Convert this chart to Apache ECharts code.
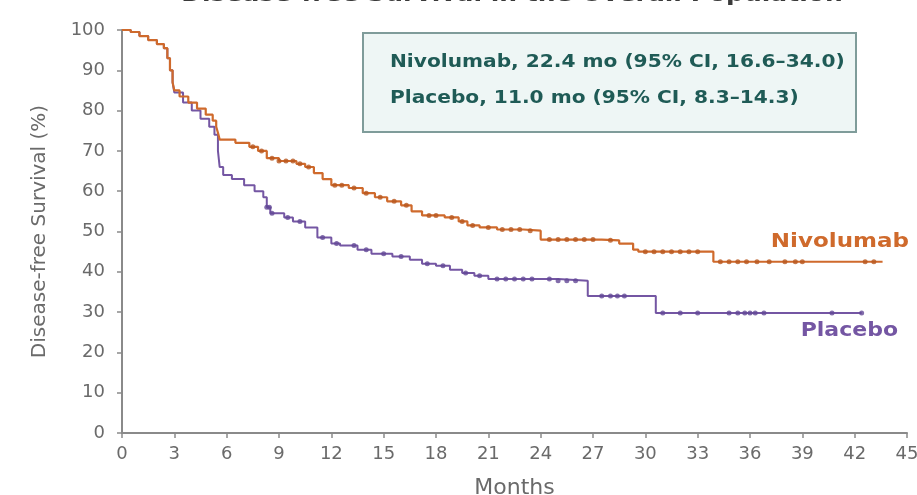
<!DOCTYPE html>
<html>
<head>
<meta charset="utf-8">
<script src="https://cdn.jsdelivr.net/npm/echarts@6/dist/echarts.min.js"></script>
<style>html,body{margin:0;padding:0;background:#fff}#c{width:917px;height:495px}</style>
</head>
<body>
<div id="c"></div>
<script>
// ---- data ----
const xTicks = [0,3,6,9,12,15,18,21,24,27,30,33,36,39,42,45];
const yTicks = [0,10,20,30,40,50,60,70,80,90,100];

const nivoTime = [0,0.5,1.0,1.5,2.0,2.4,2.6,2.75,2.9,3.0,3.3,3.8,4.3,4.8,5.2,5.4,5.5,5.6,6.5,7.3,7.8,8.3,9.0,10.0,10.5,11.0,11.5,12.0,13.0,13.8,14.5,15.2,16.0,16.6,17.2,18.5,19.3,19.8,20.5,21.5,23.0,24.0,27.5,28.5,29.3,29.6,33.9,43.6];
const nivoSurv = [100,99.5,98.5,97.5,96.5,95.5,93,90,87,85,83.5,82,80.5,79,77.5,76,74.5,72.8,72,71,70,68.2,67.5,66.8,66,64.5,63,61.5,60.8,59.5,58.5,57.5,56.5,55,54,53.5,52.5,51.5,51,50.5,50.2,48,47.8,47,45.5,45,42.5,42.5];

const placTime = [0,0.5,1.0,1.5,2.0,2.4,2.6,2.75,2.9,3.0,3.5,4.0,4.5,5.0,5.3,5.5,5.6,5.8,6.3,7.0,7.6,8.1,8.3,8.5,9.3,9.8,10.5,11.2,12.0,12.5,13.5,14.3,15.5,16.5,17.2,18.0,18.8,19.5,20.2,21.0,25.0,26.7,30.6,42.4];
const placSurv = [100,99.5,98.5,97.5,96.5,95.5,93,90,87,84.5,82,80,78,76,74,70,66,64,63,61.5,60,58.5,56,54.5,53.5,52.5,51,48.5,47,46.5,45.5,44.5,43.8,43,42,41.5,40.5,39.7,39,38.2,37.8,34,29.8,29.8];

const nivoCensor = [7.5,8.0,8.6,9.0,9.4,9.8,10.2,10.7,12.2,12.6,13.3,14.0,14.8,15.6,16.3,17.6,18.0,18.9,19.5,20.1,21.0,21.8,22.3,22.8,23.4,24.5,25.0,25.5,26.0,26.5,27.0,28.0,30.0,30.5,31.0,31.5,32.0,32.5,33.0,34.3,34.8,35.3,35.8,36.4,37.1,38.0,38.6,39.0,42.6,43.1];
const placCensor = [8.3,8.45,8.6,9.5,10.2,11.5,12.3,13.3,14.0,15.0,16.0,17.5,18.4,19.7,20.5,21.5,22.0,22.5,23.0,23.5,24.5,25.0,25.5,26.0,27.5,28.0,28.4,28.8,31.0,32.0,33.0,34.8,35.3,35.7,36.0,36.3,36.8,40.7,42.4];

// ---- helpers ----
function pairs(t, s){ return t.map((v,i)=>[v, s[i]]); }
function survAt(t, s, x){ let v = s[0]; for (let i=0;i<t.length;i++){ if (t[i] <= x) v = s[i]; } return v; }

const orange = '#cf6a2c';
const purple = '#7456a3';
const FF = '"DejaVu Sans"';

const chart = echarts.init(document.getElementById('c'), null, {renderer:'canvas'});
const axisFont = {fontFamily:'DejaVu Sans', fontSize:18, color:'#6a6a6a'};

chart.setOption({
  animation:false,
  grid:{left:122, right:10, top:30, bottom:62, containLabel:false, outerBoundsMode:'none'},
  xAxis:{
    type:'value', min:0, max:45, interval:3,
    name:'Months', nameLocation:'middle', nameGap:44,
    nameTextStyle:{fontFamily:'DejaVu Sans', fontSize:22, color:'#6a6a6a'},
    axisLine:{lineStyle:{color:'#8a8a8a', width:2}},
    axisTick:{show:true, length:5, lineStyle:{color:'#8a8a8a', width:1.5}},
    axisLabel:Object.assign({margin:12, formatter:(v)=> xTicks.includes(v)? String(v):''}, axisFont),
    splitLine:{show:false}
  },
  yAxis:{
    type:'value', min:0, max:100, interval:10,
    name:'Disease-free Survival (%)', nameLocation:'middle', nameGap:72,
    nameTextStyle:{fontFamily:'DejaVu Sans', fontSize:20, color:'#6a6a6a'},
    axisLine:{show:true, lineStyle:{color:'#8a8a8a', width:2}},
    axisTick:{show:true, length:5, lineStyle:{color:'#8a8a8a', width:1.5}},
    axisLabel:Object.assign({margin:17, formatter:(v)=> yTicks.includes(v)? String(v):''}, axisFont),
    splitLine:{show:false}
  },
  series:[
    {type:'line', name:'Placebo', step:'end', showSymbol:false, data:pairs(placTime, placSurv),
     lineStyle:{color:purple, width:2}, z:2},
    {type:'line', name:'Nivolumab', step:'end', showSymbol:false, data:pairs(nivoTime, nivoSurv),
     lineStyle:{color:orange, width:2.2}, z:3},
    {type:'scatter', data:placCensor.map(x=>[x, survAt(placTime, placSurv, x)]),
     symbol:'circle', symbolSize:5, itemStyle:{color:'#634896'}, z:4},
    {type:'scatter', data:nivoCensor.map(x=>[x, survAt(nivoTime, nivoSurv, x)]),
     symbol:'circle', symbolSize:5, itemStyle:{color:'#b8581f'}, z:5}
  ],
  graphic:[
    {type:'text', x:512, y:-15, scaleX:1.19, style:{text:'Disease-free Survival in the Overall Population', font:'bold 21px ' + FF, fill:'#3a3a3a', textAlign:'center'}},
    {type:'rect', shape:{x:363, y:33, width:493, height:99}, style:{fill:'#eef6f5', stroke:'#7f9c9a', lineWidth:2}, z:10},
    {type:'text', x:390, y:62, scaleX:1.12, style:{text:'Nivolumab, 22.4 mo (95% CI, 16.6–34.0)', font:'bold 18px ' + FF, fill:'#1f5b56', textVerticalAlign:'middle'}, z:11},
    {type:'text', x:390, y:98, scaleX:1.12, style:{text:'Placebo, 11.0 mo (95% CI, 8.3–14.3)', font:'bold 18px ' + FF, fill:'#1f5b56', textVerticalAlign:'middle'}, z:11},
    {type:'text', x:909, y:242, scaleX:1.15, style:{text:'Nivolumab', font:'bold 20px ' + FF, fill:orange, textAlign:'right', textVerticalAlign:'middle'}, z:11},
    {type:'text', x:898, y:331, scaleX:1.1, style:{text:'Placebo', font:'bold 20px ' + FF, fill:purple, textAlign:'right', textVerticalAlign:'middle'}, z:11}
  ]
});
</script>
</body>
</html>
